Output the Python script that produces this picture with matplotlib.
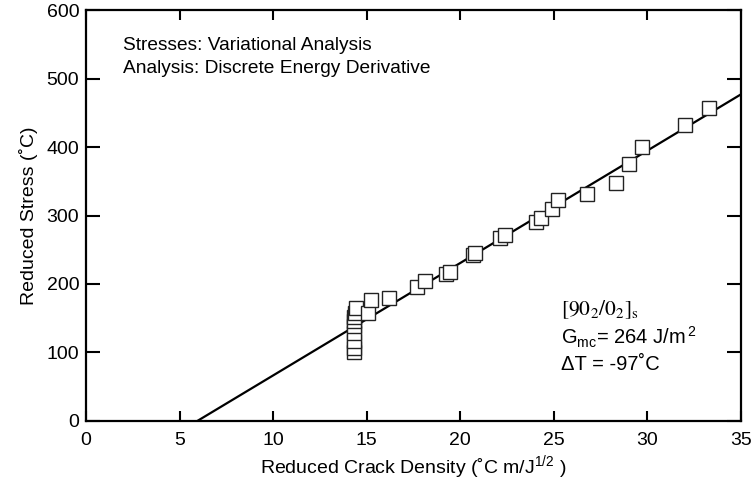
import matplotlib
matplotlib.use('Agg')
import matplotlib.pyplot as plt

plt.rcParams['font.family'] = ['Liberation Sans', 'DejaVu Sans']
plt.rcParams['mathtext.fontset'] = 'custom'
plt.rcParams['mathtext.rm'] = 'Liberation Sans'
plt.rcParams['mathtext.it'] = 'Liberation Sans:italic'

# measured points (reduced crack density, reduced stress)
crack_density = [14.3, 14.3, 14.3, 14.3, 14.3, 14.3, 14.3, 14.35, 14.4, 15.05, 15.2,
                 16.2, 17.7, 18.1, 19.25, 19.45, 20.7, 20.8, 22.1, 22.4, 24.05, 24.3,
                 24.9, 25.2, 26.8, 28.3, 29.0, 29.7, 32.0, 33.3]
reduced_stress = [100, 107, 117, 128, 138, 146, 152, 158, 165, 158, 177,
                  179, 195, 205, 214, 218, 243, 246, 267, 271, 291, 296,
                  309, 322, 331, 347, 375, 400, 432, 457]

# fitted line
fit_x = [5.95, 35]
fit_y = [0, 477]

fig = plt.figure(figsize=(7.56, 4.86), dpi=100)
ax = fig.add_axes([0.114, 0.134, 0.866, 0.845])

ax.plot(fit_x, fit_y, color='black', lw=1.6, zorder=2)
ax.plot(crack_density, reduced_stress, 's', ms=9.5, mfc='white', mec='#222222',
        mew=1.0, zorder=3)

ax.set_xlim(0, 35)
ax.set_ylim(0, 600)
ax.set_xticks(range(0, 36, 5))
ax.set_yticks(range(0, 601, 100))
ax.tick_params(axis='both', direction='in', top=True, right=True, width=1.5,
               labelsize=14)
ax.tick_params(axis='x', length=7, pad=8)
ax.tick_params(axis='y', length=10, pad=5)
for s in ax.spines.values():
    s.set_linewidth(1.6)

ax.set_xlabel('Reduced Crack Density (˚C m/J$^{1/2}$ )', fontsize=14, labelpad=3)
ax.set_ylabel('Reduced Stress (˚C)', fontsize=14, labelpad=6)

ax.text(1.95, 548, 'Stresses: Variational Analysis', fontsize=13.8, va='center')
ax.text(1.95, 515, 'Analysis: Discrete Energy Derivative', fontsize=13.8, va='center')

ax.text(25.4, 163, r'$\mathrm{[90_2/0_2]_s}$', fontsize=15.5, va='center',
        math_fontfamily='stix')
ax.text(25.4, 122, r'G$_{\mathrm{mc}}$= 264 J/m$^{\,2}$', fontsize=14.5, va='center')
ax.text(25.4, 82, 'ΔT = -97˚C', fontsize=14.5, va='center')

fig.savefig('out.png', dpi=100)
